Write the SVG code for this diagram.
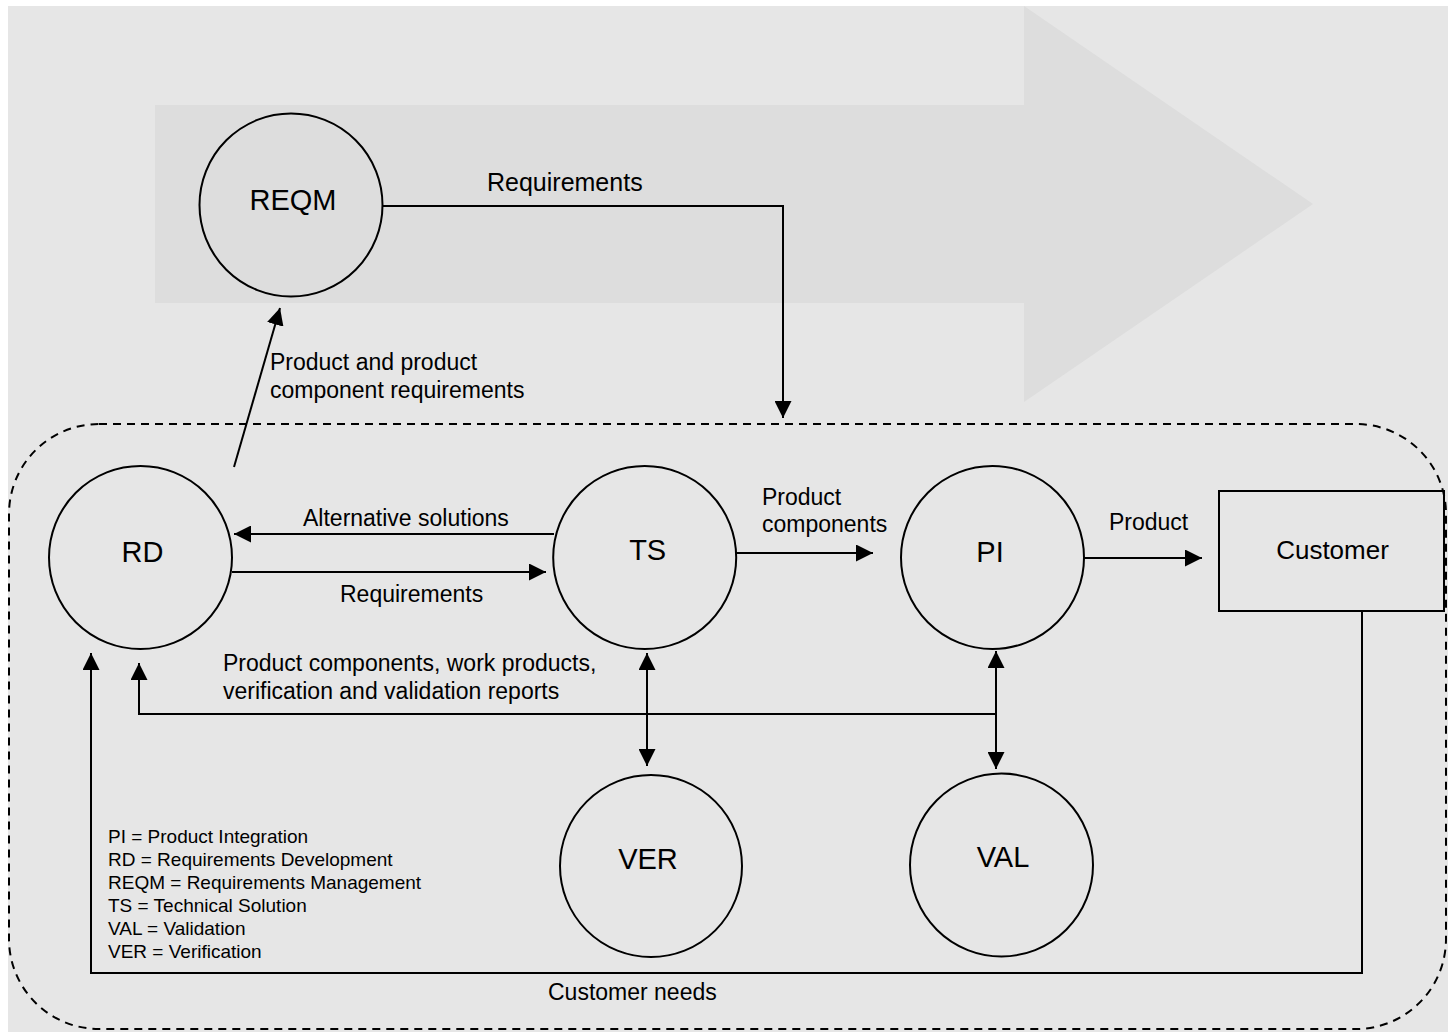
<svg xmlns="http://www.w3.org/2000/svg" width="1448" height="1032" viewBox="0 0 1448 1032">
<style>
text{font-family:"Liberation Sans",Arial,sans-serif;fill:#000}
.node{fill:none;stroke:#000;stroke-width:2}
.lbl{font-size:23px}
.ntxt{font-size:29px;text-anchor:middle}
.leg{font-size:19px}
.conn{fill:none;stroke:#000;stroke-width:2}
</style>
<defs>
<marker id="ah" markerUnits="userSpaceOnUse" markerWidth="17" markerHeight="17" refX="17" refY="8.5" orient="auto-start-reverse" viewBox="0 0 17 17">
<path d="M0,0 L17,8.5 L0,17 z" fill="#000"/>
</marker>
</defs>
<rect x="8" y="6" width="1440" height="1026" fill="#e6e6e6"/>
<polygon points="155,105 1024,105 1024,6 1313,204 1024,402 1024,303 155,303" fill="#dddddd"/>
<rect x="9" y="424" width="1437" height="605" rx="90" ry="90" fill="none" stroke="#000" stroke-width="2" stroke-dasharray="8 6"/>

<g id="connectors">
<path class="conn" d="M382,206 H783 V418" marker-end="url(#ah)"/>
<path class="conn" d="M234,467 L280,308" marker-end="url(#ah)"/>
<path class="conn" d="M554,534 H234" marker-end="url(#ah)"/>
<path class="conn" d="M232,572 H546" marker-end="url(#ah)"/>
<path class="conn" d="M736,553 H873" marker-end="url(#ah)"/>
<path class="conn" d="M1084,558 H1202" marker-end="url(#ah)"/>
<path class="conn" d="M647,653 V766" marker-start="url(#ah)" marker-end="url(#ah)"/>
<path class="conn" d="M996,651 V769" marker-start="url(#ah)" marker-end="url(#ah)"/>
<path class="conn" d="M996,714 H139 V663" marker-end="url(#ah)"/>
<path class="conn" d="M1362,611 V973 H91 V653" marker-end="url(#ah)"/>
<text class="lbl" x="487" y="191" style="font-size:25px">Requirements</text>
<text class="lbl" x="270" y="370">Product and product</text>
<text class="lbl" x="270" y="398">component requirements</text>
<text class="lbl" x="303" y="526">Alternative solutions</text>
<text class="lbl" x="340" y="602">Requirements</text>
<text class="lbl" x="762" y="505">Product</text>
<text class="lbl" x="762" y="532">components</text>
<text class="lbl" x="1109" y="530">Product</text>
<text class="lbl" x="223" y="671">Product components, work products,</text>
<text class="lbl" x="223" y="699">verification and validation reports</text>
<text class="lbl" x="548" y="1000">Customer needs</text>
</g>

<g id="REQM"><circle class="node" cx="291" cy="205" r="91.5"/><text class="ntxt" x="293" y="210">REQM</text></g>
<g id="RD"><circle class="node" cx="140.5" cy="557.5" r="91.5"/><text class="ntxt" x="142.5" y="562">RD</text></g>
<g id="TS"><circle class="node" cx="644.7" cy="557.5" r="91.5"/><text class="ntxt" x="647.7" y="560">TS</text></g>
<g id="PI"><circle class="node" cx="992.5" cy="557.5" r="91.5"/><text class="ntxt" x="990" y="562">PI</text></g>
<g id="Customer"><rect class="node" x="1219" y="491" width="225" height="120"/><text class="ntxt" x="1332.5" y="559" style="font-size:26px">Customer</text></g>
<g id="VER"><circle class="node" cx="651" cy="866" r="91"/><text class="ntxt" x="648" y="869">VER</text></g>
<g id="VAL"><circle class="node" cx="1001.5" cy="865" r="91.5"/><text class="ntxt" x="1003" y="867">VAL</text></g>

<g id="legend">
<text class="leg" x="108" y="843">PI = Product Integration</text>
<text class="leg" x="108" y="866">RD = Requirements Development</text>
<text class="leg" x="108" y="889">REQM = Requirements Management</text>
<text class="leg" x="108" y="912">TS = Technical Solution</text>
<text class="leg" x="108" y="935">VAL = Validation</text>
<text class="leg" x="108" y="958">VER = Verification</text>
</g>
</svg>
